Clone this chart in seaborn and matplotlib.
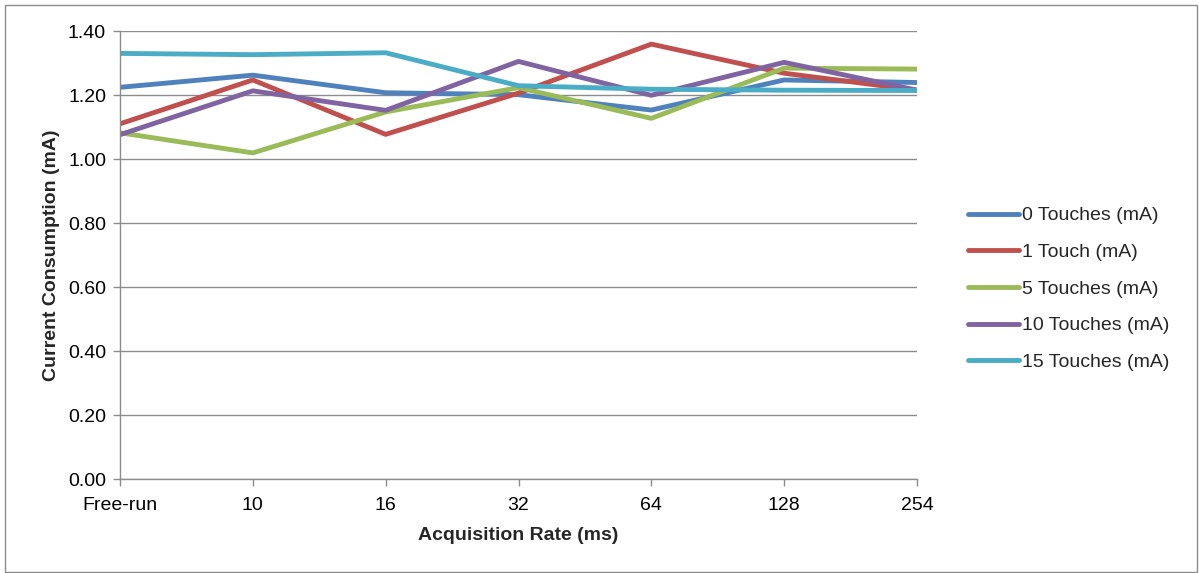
import matplotlib
matplotlib.use("Agg")
import matplotlib.pyplot as plt
from matplotlib.patches import Rectangle
import seaborn as sns
import pandas as pd

categories = ["Free-run", "10", "16", "32", "64", "128", "254"]
touches0 = [1.224, 1.262, 1.207, 1.201, 1.153, 1.247, 1.239]
touches1 = [1.110, 1.247, 1.077, 1.206, 1.359, 1.268, 1.215]
touches5 = [1.082, 1.019, 1.147, 1.223, 1.127, 1.284, 1.281]
touches10 = [1.076, 1.213, 1.152, 1.305, 1.199, 1.302, 1.215]
touches15 = [1.330, 1.326, 1.332, 1.229, 1.218, 1.215, 1.214]
series_names = ["0 Touches (mA)", "1 Touch (mA)", "5 Touches (mA)",
                "10 Touches (mA)", "15 Touches (mA)"]
colors = ["#4F81BD", "#C0504D", "#9BBB59", "#8064A2", "#4BACC6"]

rows = []
for name, vals in zip(series_names, [touches0, touches1, touches5, touches10, touches15]):
    for c, v in zip(categories, vals):
        rows.append({"Rate": c, "Value": v, "Series": name})
df = pd.DataFrame(rows)

sns.set_theme(style="white")
plt.rcParams['font.family'] = ['Liberation Sans', 'DejaVu Sans']

FS = 14

fig = plt.figure(figsize=(11.99, 5.73), dpi=100)
ax = fig.add_axes([120/1199, 1-479/573, (917-120)/1199, (479-31)/573])

sns.lineplot(data=df, x="Rate", y="Value", hue="Series", hue_order=series_names,
             palette=colors, linewidth=3.5, ax=ax, sort=False, legend=True)

ax.set_xlim(0, len(categories) - 1)
ax.set_ylim(0, 1.40)
ax.set_yticks([i * 0.2 for i in range(8)])
ax.set_yticklabels([f"{i*0.2:.2f}" for i in range(8)])
ax.set_xticks(range(len(categories)))
ax.set_xticklabels(categories)
ax.yaxis.grid(True, color="#8c8c8c", linewidth=1.0)
ax.xaxis.grid(False)
ax.set_axisbelow(True)
for s in ["top", "right"]:
    ax.spines[s].set_visible(False)
for s in ["left", "bottom"]:
    ax.spines[s].set_color("#8c8c8c")
    ax.spines[s].set_linewidth(1.0)
ax.tick_params(axis="both", which="both", length=5, width=1.0, color="#8c8c8c",
               labelsize=FS, labelcolor="black", direction="out",
               left=True, bottom=True)
ax.tick_params(axis="x", pad=8)
ax.tick_params(axis="y", pad=5)

ax.set_xlabel("Acquisition Rate (ms)", fontsize=FS, fontweight="bold", labelpad=9)
ax.set_ylabel("Current Consumption (mA)", fontsize=FS, fontweight="bold", labelpad=5.5)

leg = ax.legend(loc="center left", bbox_to_anchor=(968/1199, 1-289/573),
                bbox_transform=fig.transFigure, frameon=False, fontsize=FS,
                handlelength=2.6, handletextpad=0.2, labelspacing=0.98,
                borderaxespad=0, borderpad=0)
for line in leg.get_lines():
    line.set_linewidth(3.5)

fig.patches.append(Rectangle((5/1199, 1/573), 1192/1199, 567/573, transform=fig.transFigure,
                             fill=False, edgecolor="#8c8c8c", linewidth=1.0))

fig.savefig("out.png", dpi=100, facecolor="white")
